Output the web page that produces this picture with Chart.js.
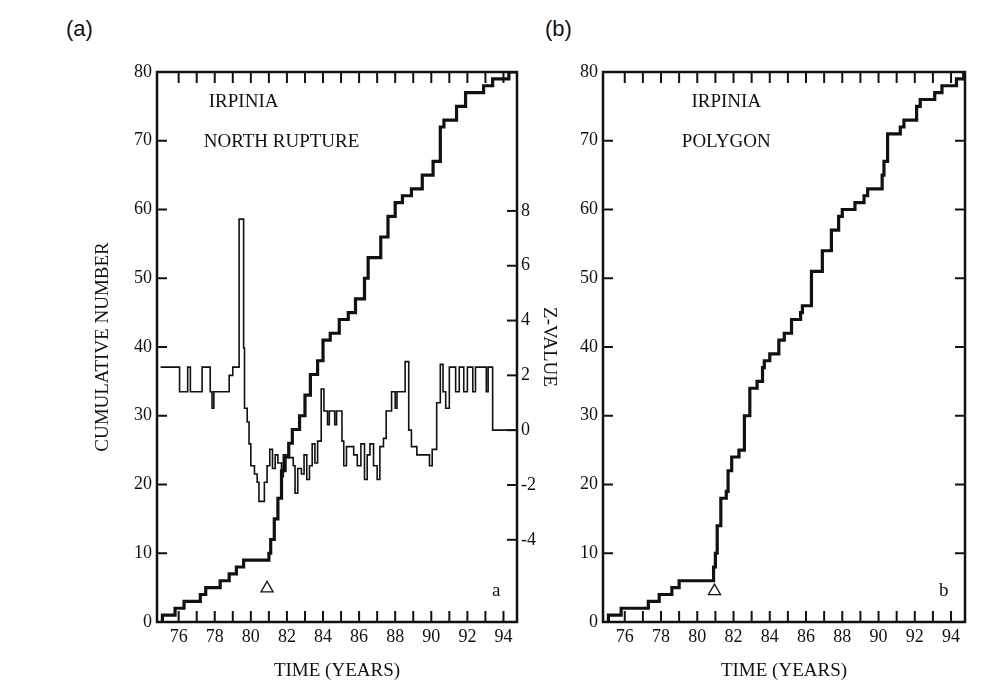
<!DOCTYPE html>
<html><head><meta charset="utf-8">
<script src="https://cdn.jsdelivr.net/npm/chart.js@4"></script>
<style>
body{margin:0;background:#fff;width:1004px;height:682px;position:relative;overflow:hidden}
.c{position:absolute;top:0}
.lab{position:absolute;font-family:"Liberation Sans",Arial,sans-serif;font-size:22px;color:#111}
</style></head><body>
<div class="lab" style="left:66px;top:16px">(a)</div>
<div class="lab" style="left:545px;top:16px">(b)</div>
<div class="c" style="left:0;width:560px;height:682px"><canvas id="ca"></canvas></div>
<div class="c" style="left:560px;width:444px;height:682px"><canvas id="cb"></canvas></div>
<script>
// Panel (a): cumulative number, North rupture
const cumA_x = [75.0,75.1,75.8,76.3,77.2,77.5,78.3,78.8,79.2,79.6,81.0,81.1,81.3,81.5,81.7,81.9,82.1,82.3,82.7,83.0,83.3,83.7,84.0,84.4,84.9,85.4,85.8,86.3,86.5,87.2,87.6,88.0,88.4,88.9,89.5,90.1,90.5,90.7,91.4,91.9,92.9,93.4,94.3,94.7];
const cumA_y = [0,1,2,3,4,5,6,7,8,9,10,12,15,18,22,24,26,28,30,33,36,38,41,42,44,45,47,50,53,56,59,61,62,63,65,67,72,73,75,77,78,79,80,80];
// Panel (a): Z-value (step changes)
const zA_x = [75.0,76.05,76.5,76.65,77.3,77.75,77.85,77.95,78.8,79.0,79.35,79.6,79.65,79.8,79.9,80.0,80.2,80.35,80.45,80.75,80.9,81.05,81.2,81.35,81.5,81.7,81.8,82.1,82.35,82.45,82.6,82.8,82.95,83.1,83.25,83.4,83.55,83.7,83.9,84.05,84.25,84.35,84.65,84.75,85.05,85.15,85.3,85.7,85.9,86.1,86.3,86.45,86.6,86.8,87.0,87.15,87.35,87.5,87.8,88.0,88.1,88.55,88.75,88.9,89.2,89.9,90.05,90.3,90.5,90.65,90.8,91.0,91.35,91.55,91.8,92.0,92.3,92.45,93.05,93.15,93.4,94.75];
const zA_y = [2.3,1.4,2.3,1.4,2.3,1.4,0.8,1.4,2.0,2.3,7.7,3.0,0.8,0.3,-0.5,-1.3,-1.6,-1.9,-2.6,-1.9,-1.3,-0.7,-1.4,-0.9,-1.2,-1.7,-0.9,-1.0,-1.3,-2.3,-1.4,-1.6,-0.9,-1.8,-1.3,-0.5,-1.2,-0.4,1.5,0.7,0.2,0.7,0.2,0.7,-0.4,-1.3,-0.6,-0.9,-1.3,-0.5,-1.8,-0.9,-0.5,-1.3,-1.8,-0.6,-0.3,0.7,1.4,0.8,1.4,2.5,0.0,-0.6,-0.9,-1.3,-0.7,1.0,2.4,1.4,0.8,2.3,1.4,2.3,1.4,2.3,1.4,2.3,1.4,2.3,0.0,0.0];
// Panel (b): cumulative number, polygon
const cumB_x = [75.0,75.1,75.8,77.3,77.9,78.6,79.0,80.9,81.0,81.1,81.3,81.6,81.7,81.9,82.3,82.6,82.9,83.3,83.6,83.7,84.0,84.5,84.8,85.2,85.7,85.8,86.3,86.9,87.4,87.8,88.0,88.7,89.2,89.4,90.2,90.3,90.5,91.2,91.4,92.1,92.3,93.1,93.5,94.3,94.7];
const cumB_y = [0,1,2,3,4,5,6,8,10,14,18,19,22,24,25,30,34,35,37,38,39,41,42,44,45,46,51,54,57,59,60,61,62,63,65,67,71,72,73,75,76,77,78,79,80];
const markA = [{x:80.9,y:4.9}], markB = [{x:80.95,y:4.5}];
const xTicks = [76,78,80,82,84,86,88,90,92,94];
const zTicks = [-4,-2,0,2,4,6,8];

const ser = '"Liberation Serif","DejaVu Serif",serif';
const ink = '#111';
function pts(xs, ys){ return xs.map((x,i)=>({x, y:ys[i]})); }

const inward = {
  id:'inward',
  afterDraw(ch){
    const c=ch.ctx, a=ch.chartArea, x=ch.scales.x, y=ch.scales.y;
    c.save(); c.strokeStyle=ink; c.lineWidth=2.5;
    c.strokeRect(a.left,a.top,a.right-a.left,a.bottom-a.top);
    c.lineWidth=2;
    for(let v=76; v<=94; v++){ const p=x.getPixelForValue(v);
      c.beginPath(); c.moveTo(p,a.bottom); c.lineTo(p,a.bottom-11); c.stroke();
      c.beginPath(); c.moveTo(p,a.top); c.lineTo(p,a.top+11); c.stroke(); }
    for(let v=10; v<80; v+=10){ const p=y.getPixelForValue(v);
      c.beginPath(); c.moveTo(a.left,p); c.lineTo(a.left+10,p); c.stroke();
      if(!ch.scales.z){ c.beginPath(); c.moveTo(a.right,p); c.lineTo(a.right-10,p); c.stroke(); } }
    if(ch.scales.z){ for(const v of zTicks){ const p=ch.scales.z.getPixelForValue(v);
      c.beginPath(); c.moveTo(a.right,p); c.lineTo(a.right-10,p); c.stroke(); } }
    c.font='19px '+ser; c.fillStyle=ink; c.textAlign='center'; c.textBaseline='middle';
    for(const t of ch.options.plugins.inward.texts){
      c.fillText(t[0], x.getPixelForValue(t[1]), y.getPixelForValue(t[2])); }
    c.restore();
  }
};

function common(padL, wL){
  return {
    responsive:true, maintainAspectRatio:false, animation:false,
    layout:{padding:{left:padL, top:72, right:0, bottom:0}},
    plugins:{legend:{display:false}, tooltip:{enabled:false}},
    scales:{
      x:{type:'linear', min:74.8, max:94.75,
        afterBuildTicks:s=>{s.ticks=xTicks.map(v=>({value:v}));},
        afterFit:s=>{s.height=60;},
        grid:{display:false, drawTicks:false}, border:{color:ink,width:2},
        ticks:{color:ink, font:{family:ser,size:18}, padding:4, autoSkip:false, maxRotation:0},
        title:{display:true, text:'TIME (YEARS)', color:ink, font:{family:ser,size:19}, padding:{top:0,bottom:0}}},
      y:{min:0, max:80, position:'left',
        afterBuildTicks:s=>{s.ticks=[0,10,20,30,40,50,60,70,80].map(v=>({value:v}));},
        afterFit:s=>{s.width=wL;},
        grid:{display:false, drawTicks:false}, border:{color:ink,width:2},
        ticks:{color:ink, font:{family:ser,size:18}, padding:5}}
    }
  };
}

const optA = common(92, 65);
optA.scales.y.title = {display:true, text:'CUMULATIVE NUMBER', color:ink, font:{family:ser,size:19}, padding:0};
optA.scales.z = {min:-7, max:13.07, position:'right',
  afterBuildTicks:s=>{s.ticks=zTicks.map(v=>({value:v}));},
  afterFit:s=>{s.width=43;},
  grid:{display:false, drawTicks:false}, border:{color:ink,width:2},
  ticks:{color:ink, font:{family:ser,size:18}, padding:4},
  title:{display:true, text:'Z-VALUE', color:ink, font:{family:ser,size:19}, padding:0}};
optA.plugins.inward = {texts:[['IRPINIA',79.6,75.6],['NORTH RUPTURE',81.7,69.8],['a',93.6,4.5]]};

new Chart(document.getElementById('ca'), {
  type:'line',
  data:{datasets:[
    {data:pts(cumA_x,cumA_y), yAxisID:'y', stepped:true, borderColor:ink, borderWidth:3.2, pointRadius:0},
    {data:pts(zA_x,zA_y), yAxisID:'z', stepped:true, borderColor:ink, borderWidth:1.6, pointRadius:0},
    {data:markA, yAxisID:'y', showLine:false, pointStyle:'triangle', pointRadius:7, borderColor:ink, borderWidth:1.3, backgroundColor:'rgba(0,0,0,0)'}
  ]},
  options:optA, plugins:[inward]
});

const optB = common(0, 43);
optB.scales.x.max = 94.77;
optB.layout.padding.right = 39;
optB.plugins.inward = {texts:[['IRPINIA',81.6,75.6],['POLYGON',81.6,69.8],['b',93.6,4.5]]};
new Chart(document.getElementById('cb'), {
  type:'line',
  data:{datasets:[
    {data:pts(cumB_x,cumB_y), stepped:true, borderColor:ink, borderWidth:3.2, pointRadius:0},
    {data:markB, showLine:false, pointStyle:'triangle', pointRadius:7, borderColor:ink, borderWidth:1.3, backgroundColor:'rgba(0,0,0,0)'}
  ]},
  options:optB, plugins:[inward]
});
</script></body></html>
